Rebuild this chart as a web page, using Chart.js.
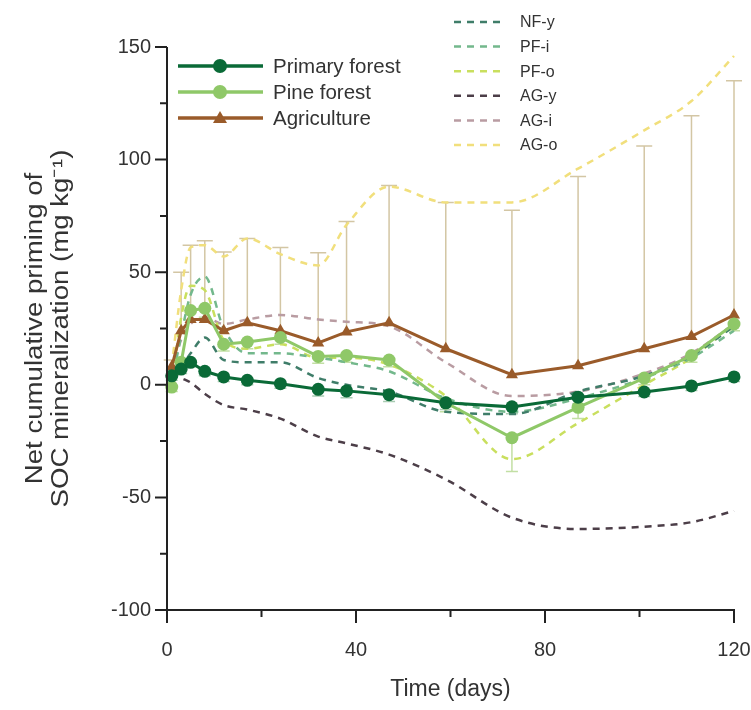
<!DOCTYPE html>
<html><head><meta charset="utf-8">
<script src="https://cdn.jsdelivr.net/npm/chart.js@4.4.0/dist/chart.umd.min.js"></script>
<style>html,body{margin:0;padding:0;background:#fff;}</style>
</head><body>
<canvas id="c" width="751" height="710"></canvas>
<script>
// ---- data ----
const days = [1, 3, 5, 8, 12, 17, 24, 32, 38, 47, 59, 73, 87, 101, 111, 120];
const primaryForest = [4, 7, 10, 6, 3.5, 2, 0.5, -2, -2.7, -4.4, -8, -9.8, -5.5, -3.2, -0.5, 3.5];
const primaryErr = [2, 2, 2, 2, 2, 2, 2, 3, 3, 3, 3, 3, 3, 2, 2, 2];
const pineForest = [-1, 10, 33, 34, 18, 19, 21, 12.6, 13, 11, -8, -23.5, -10, 3, 13, 27];
const pineErr = [2, 3, 4, 4, 3, 3, 3, 3, 3, 3, 4, 15, 5, 3, 3, 3];
const agriculture = [8, 24, 29, 29, 24, 27.5, 24, 18.6, 23.5, 27.5, 16, 4.5, 8.5, 16, 21.5, 31];
const agricultureErr = [3, 26, 33, 35, 35, 37.5, 37, 40, 49, 61, 65, 73, 84, 90, 98, 104];
const nfY = [3, 8, 14, 21, 11, 10, 10, 3, 0, -3, -12, -13, -3, 4, 13, 26];
const pfI = [0, 22, 40, 48, 25, 14, 14, 12, 10, 6, -6, -12, -6, 3, 12, 24];
const pfO = [-2, 30, 44, 42, 20, 16, 18, 12, 12, 9, -5, -33, -17, 0, 12, 27];
const agY = [5, 3, 1, -4, -9, -11, -15, -23, -26, -31, -42, -59, -64, -63, -61, -56];
const agI = [6, 20, 27, 30, 27, 29, 31, 29, 28, 26, 10, -5, -3, 5, 14, 27];
const agO = [8, 42, 61, 62, 57, 65, 58, 53, 71, 88, 81, 81, 96, 113, 126, 146];
const xTicks = [0, 40, 80, 120];
const yTicks = [-100, -50, 0, 50, 100, 150];
const yTitle = ['Net cumulative priming of', 'SOC mineralization (mg kg⁻¹)'];
const xTitle = 'Time (days)';

const FONT = "'Liberation Sans', Arial, sans-serif";
const TXT = '#333333';
const pts = vals => days.map((d, i) => ({x: d, y: vals[i]}));

const solid = (label, vals, color, style, r) => ({
  label, data: pts(vals), borderColor: color, backgroundColor: color,
  borderWidth: 3, pointStyle: style, pointRadius: r, pointHoverRadius: r,
  pointBorderWidth: 0, tension: 0, order: 0, clip: false, _legend: 'left'
});
const dashed = (label, vals, color) => ({
  label, data: pts(vals), borderColor: color, backgroundColor: color,
  borderWidth: 2.5, borderDash: [7, 6], pointRadius: 0, pointHoverRadius: 0,
  tension: 0.35, cubicInterpolationMode: 'monotone', order: 1, clip: false, _legend: 'right'
});

const datasets = [
  solid('Primary forest', primaryForest, '#0a6a37', 'circle', 6.5),
  solid('Pine forest', pineForest, '#8fc868', 'circle', 6.5),
  solid('Agriculture', agriculture, '#9a5b2a', 'triangle', 7),
  dashed('NF-y', nfY, '#3f7d69'),
  dashed('PF-i', pfI, '#73b88c'),
  dashed('PF-o', pfO, '#c9df5e'),
  dashed('AG-y', agY, '#4c3e48'),
  dashed('AG-i', agI, '#b99ca2'),
  dashed('AG-o', agO, '#f1df7c')
];

const errorBars = {
  id: 'errorBars',
  beforeDatasetsDraw(chart) {
    const {ctx, scales: {x, y}} = chart;
    const draw = (vals, errs, dir, color, cap) => {
      ctx.save();
      ctx.strokeStyle = color; ctx.lineWidth = 1.5;
      days.forEach((d, i) => {
        const px = x.getPixelForValue(d);
        const p0 = y.getPixelForValue(vals[i]);
        const p1 = y.getPixelForValue(vals[i] + dir * errs[i]);
        ctx.beginPath();
        ctx.moveTo(px, p0); ctx.lineTo(px, p1);
        ctx.moveTo(px - cap, p1); ctx.lineTo(px + cap, p1);
        ctx.stroke();
      });
      ctx.restore();
    };
    draw(agriculture, agricultureErr, 1, '#d3c6a4', 8);
    draw(primaryForest, primaryErr, -1, '#a9ccb2', 6);
    draw(pineForest, pineErr, -1, '#c2dfa4', 6);
  }
};

const axesAndLegend = {
  id: 'axesAndLegend',
  afterDraw(chart) {
    const {ctx, chartArea: a, scales: {x, y}} = chart;
    ctx.save();
    ctx.strokeStyle = '#222'; ctx.lineWidth = 2;
    // axis lines
    ctx.beginPath();
    ctx.moveTo(a.left, y.getPixelForValue(150)); ctx.lineTo(a.left, a.bottom + 13);
    ctx.moveTo(a.left - 12, a.bottom); ctx.lineTo(x.getPixelForValue(120) + 1, a.bottom);
    ctx.stroke();
    ctx.beginPath();
    for (let v = -100; v <= 150; v += 25) {
      const py = y.getPixelForValue(v);
      const len = (v % 50 === 0) ? 12 : 7;
      ctx.moveTo(a.left - len, py); ctx.lineTo(a.left, py);
    }
    for (let d = 0; d <= 120; d += 20) {
      const px = x.getPixelForValue(d);
      const len = (d % 40 === 0) ? 13 : 7;
      ctx.moveTo(px, a.bottom); ctx.lineTo(px, a.bottom + len);
    }
    ctx.stroke();

    // y-axis title (two lines, slightly stretched along the text like the reference)
    const cy = (a.top + a.bottom) / 2;
    ctx.fillStyle = TXT; ctx.font = '23px ' + FONT;
    ctx.textAlign = 'center'; ctx.textBaseline = 'middle';
    yTitle.forEach((t, i) => {
      ctx.save();
      ctx.translate(36 + i * 25.5, cy);
      ctx.rotate(-Math.PI / 2);
      ctx.scale(1.2, 1);
      ctx.fillText(t, 0, 0);
      ctx.restore();
    });

    // left legend (solid series)
    const left = chart.data.datasets.filter(d => d._legend === 'left');
    left.forEach((ds, i) => {
      const ly = 66 + i * 26;
      ctx.strokeStyle = ds.borderColor; ctx.lineWidth = 3.5; ctx.setLineDash([]);
      ctx.beginPath(); ctx.moveTo(178, ly); ctx.lineTo(263, ly); ctx.stroke();
      ctx.fillStyle = ds.borderColor;
      ctx.beginPath();
      if (ds.pointStyle === 'triangle') {
        ctx.moveTo(220, ly - 7); ctx.lineTo(227, ly + 5); ctx.lineTo(213, ly + 5); ctx.closePath();
      } else {
        ctx.arc(220, ly, 7, 0, Math.PI * 2);
      }
      ctx.fill();
      ctx.fillStyle = TXT; ctx.font = '20.5px ' + FONT;
      ctx.textAlign = 'left'; ctx.textBaseline = 'middle';
      ctx.fillText(ds.label, 273, ly + 1);
    });
    // right legend (dashed series)
    const right = chart.data.datasets.filter(d => d._legend === 'right');
    right.forEach((ds, i) => {
      const ly = 22 + i * 24.6;
      ctx.strokeStyle = ds.borderColor; ctx.lineWidth = 2.5; ctx.setLineDash([7, 6]);
      ctx.beginPath(); ctx.moveTo(454, ly); ctx.lineTo(505, ly); ctx.stroke();
      ctx.setLineDash([]);
      ctx.fillStyle = TXT; ctx.font = '16px ' + FONT;
      ctx.textAlign = 'left'; ctx.textBaseline = 'middle';
      ctx.fillText(ds.label, 520, ly + 1);
    });
    ctx.restore();
  }
};

new Chart(document.getElementById('c'), {
  type: 'line',
  data: {datasets},
  options: {
    responsive: false,
    animation: false,
    devicePixelRatio: 1,
    layout: {padding: {top: 47, right: 17, left: 0, bottom: 0}},
    plugins: {legend: {display: false}, tooltip: {enabled: false}},
    scales: {
      x: {
        type: 'linear', min: 0, max: 120,
        afterBuildTicks: s => { s.ticks = xTicks.map(v => ({value: v})); },
        afterFit: s => { s.height = 100; s.paddingLeft = 0; s.paddingRight = 0; },
        grid: {display: false, drawTicks: false},
        border: {display: false},
        ticks: {color: TXT, font: {family: FONT, size: 20}, padding: 28, maxRotation: 0},
        title: {display: true, text: xTitle, color: TXT,
                font: {family: FONT, size: 23}, padding: {top: 0, bottom: 7}}
      },
      y: {
        type: 'linear', min: -100, max: 150,
        afterBuildTicks: s => { s.ticks = yTicks.map(v => ({value: v})); },
        afterFit: s => { s.width = 167; s.paddingTop = 0; s.paddingBottom = 0; },
        grid: {display: false, drawTicks: false},
        border: {display: false},
        ticks: {color: TXT, font: {family: FONT, size: 20}, padding: 16},
        title: {display: false}
      }
    }
  },
  plugins: [errorBars, axesAndLegend]
});
</script>
</body></html>
